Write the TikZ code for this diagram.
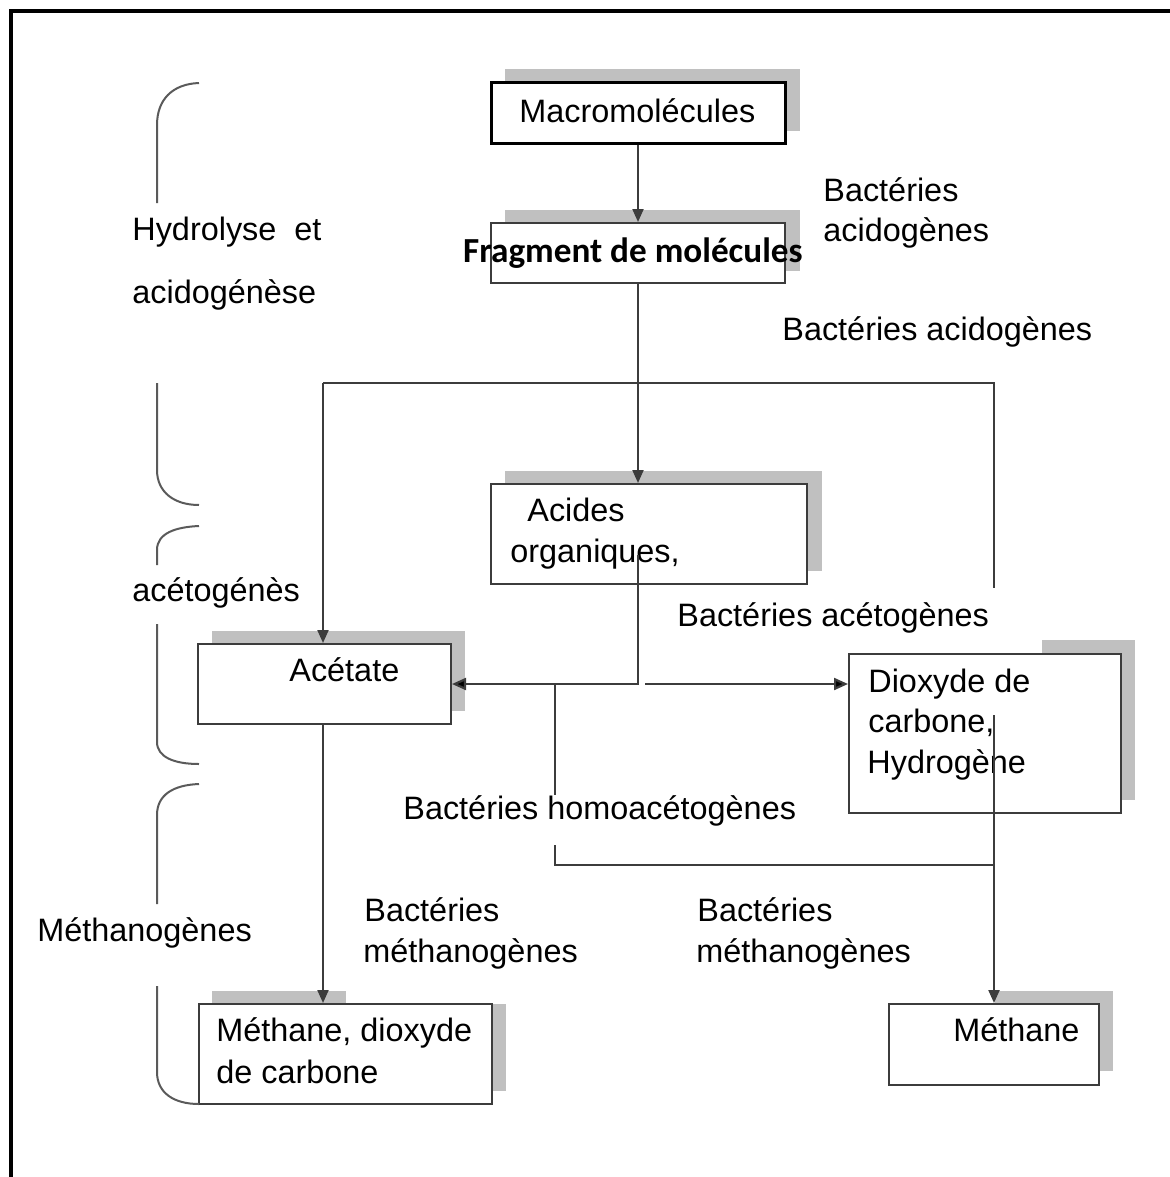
\documentclass[tikz,border=0pt]{standalone}
\usepackage{fontspec}
\setmainfont{Liberation Sans}
\newfontfamily\carlitofont{Carlito}
\usetikzlibrary{arrows.meta}
\definecolor{shade}{HTML}{C0C0C0}
\definecolor{ln}{HTML}{3C3C3C}
\definecolor{brc}{HTML}{5A5A5A}
\tikzset{
  box/.style={draw=ln, line width=1pt, fill=white, inner sep=0pt, rectangle},
  lbl/.style={inner sep=0pt, anchor=base west, font=\fontsize{16.2}{19}\selectfont, text=black},
  conn/.style={draw=ln, line width=1.1pt},
  arr/.style={conn, -{Triangle[length=6.5pt,width=5.5pt]}},
  harr/.style={conn, -{Triangle[length=7pt,width=6pt,fill=black]}},
  brace/.style={draw=brc, line width=1pt},
  shadowfill/.style={fill=shade, draw=none}
}
\begin{document}
\begin{tikzpicture}[x=0.5pt,y=-0.5pt]
\useasboundingbox (0,0) rectangle (1170,1177);
% page border
\draw[line width=2pt, black] (11,1177) -- (11,11) -- (1170,11);

% shadows
\fill[shadowfill] (505,69) rectangle (800,131);
\fill[shadowfill] (505,210) rectangle (800,271);
\fill[shadowfill] (505,471) rectangle (822,571);
\fill[shadowfill] (212,631) rectangle (465,711);
\fill[shadowfill] (1042,640) rectangle (1135,800);
\fill[shadowfill] (212,991) rectangle (346,1004);
\fill[shadowfill] (492,1004) rectangle (506,1091);
\fill[shadowfill] (995,991) rectangle (1113,1071);

% boxes
\node[box, draw=black, line width=1.5pt, minimum width=147pt, minimum height=30pt] (macro) at (638,113) {};
\node[box, minimum width=147pt, minimum height=30pt] (frag) at (638,253) {};
\node[box, minimum width=158pt, minimum height=50pt] (acides) at (649,534) {};
\node[box, minimum width=126.5pt, minimum height=40pt] (acetate) at (324.5,684) {};
\node[box, minimum width=136pt, minimum height=79.5pt] (dioxyde) at (985,733.5) {};
\node[box, minimum width=146.5pt, minimum height=50pt] (methco2) at (345.5,1054) {};
\node[box, minimum width=105pt, minimum height=40.5pt] (meth) at (994,1044.5) {};

% box texts
\node[lbl] (tmacro) at (519,123) {Macromolécules};
\node[inner sep=0pt, anchor=base, font=\carlitofont\bfseries\fontsize{17.6}{20}\selectfont] (tfrag) at (633,262) {Fragment de molécules};
\node[lbl] (tacid1) at (527,521) {Acides};
\node[lbl] (tacid2) at (510,562) {organiques,};
\node[lbl] (tacet) at (289,681) {Acétate};
\node[lbl] (tdio1) at (868,692) {Dioxyde de};
\node[lbl] (tdio2) at (868,732) {carbone,};
\node[lbl] (tdio3) at (867,773) {Hydrogène};
\node[lbl] (tmc1) at (216,1041) {Méthane, dioxyde};
\node[lbl] (tmc2) at (216,1083) {de carbone};
\node[lbl] (tmeth) at (953,1041) {Méthane};

% side labels
\node[lbl] (hyd1) at (132,240) {Hydrolyse\ \ et};
\node[lbl] (hyd2) at (132,303) {acidogénèse};
\node[lbl] (aceto) at (132,601) {acétogénès};
\node[lbl] (metha) at (37,941) {Méthanogènes};

% bacteria labels
\node[lbl] (ba1) at (823,201) {Bactéries};
\node[lbl] (ba2) at (823,241) {acidogènes};
\node[lbl] (ba3) at (782,340) {Bactéries acidogènes};
\node[lbl] (bac) at (677,626) {Bactéries acétogènes};
\node[lbl] (bho) at (403,819) {Bactéries homoacétogènes};
\node[lbl] (bm1) at (364,921) {Bactéries};
\node[lbl] (bm2) at (363,962) {méthanogènes};
\node[lbl] (bm3) at (697,921) {Bactéries};
\node[lbl] (bm4) at (696,962) {méthanogènes};

% braces
\draw[brace] (199,83) .. controls (172,84) and (157,100) .. (157,125) -- (157,203);
\draw[brace] (157,383) -- (157,470) .. controls (157,492) and (174,505) .. (199,505);
\draw[brace] (199,526) .. controls (176,527) and (157,533) .. (157,550) -- (157,565);
\draw[brace] (157,624) -- (157,742) .. controls (157,757) and (174,764) .. (199,764);
\draw[brace] (199,784) .. controls (173,785) and (157,795) .. (157,815) -- (157,904);
\draw[brace] (157,986) -- (157,1072) .. controls (157,1093) and (174,1104) .. (199,1104);

% connectors
\coordinate (jL) at (323,383);
\coordinate (jR) at (994,383);
\coordinate (jRend) at (994,588);
\coordinate (aout) at (638,555);
\coordinate (dstart) at (645,684);
\coordinate (h1) at (555,684);
\coordinate (h2) at (555,795);
\coordinate (h3) at (555,845);
\coordinate (h4) at (994,865);
\coordinate (h5) at (994,715);
\coordinate (am) at (323,724);

\draw[arr] (macro.south) -- (frag.north);
\draw[arr] (frag.south) -- (frag.south |- acides.north);
\draw[conn] (jL) -- (jR) -- (jRend);
\draw[arr] (jL) -- (jL |- acetate.north);
\draw[harr] (aout) |- (acetate.east);
\draw[harr] (dstart) -- (dstart -| dioxyde.west);
\draw[conn] (h1) -- (h2);
\draw[conn] (h3) |- (h4);
\draw[arr] (h5) -- (meth.north);
\draw[arr] (am) -- (am |- methco2.north);
\end{tikzpicture}
\end{document}
